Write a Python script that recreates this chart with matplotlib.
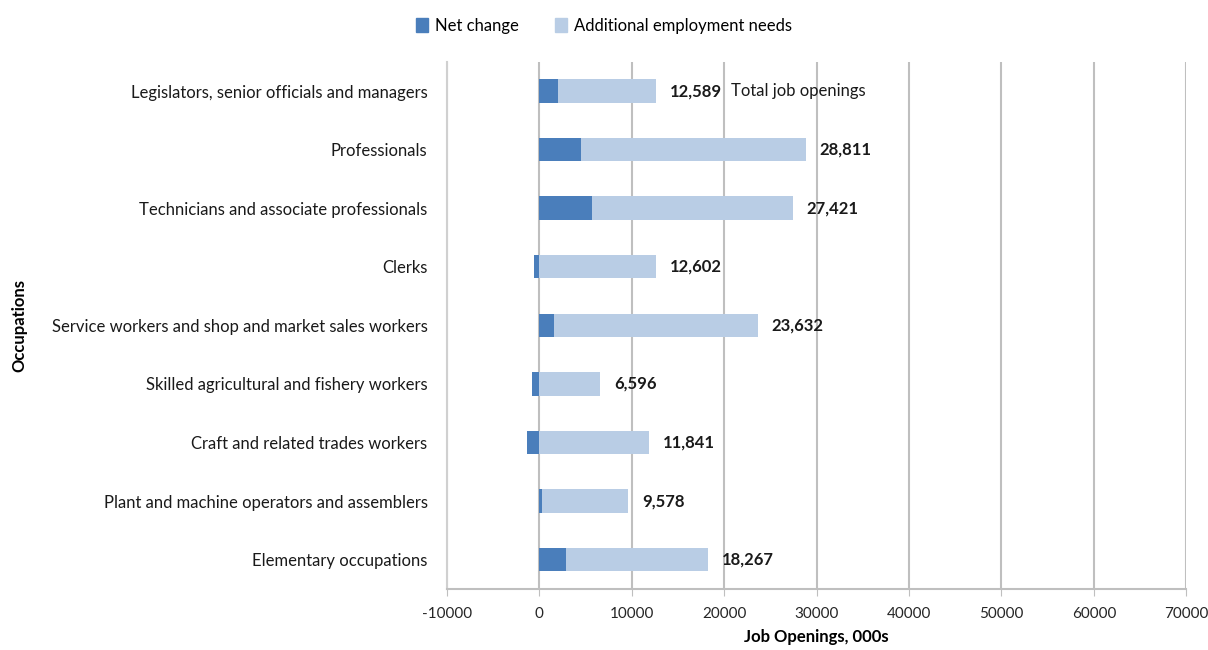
import matplotlib.pyplot as plt
from matplotlib.patches import Patch

occupations = ['Legislators, senior officials and managers',
               'Professionals',
               'Technicians and associate professionals',
               'Clerks',
               'Service workers and shop and market sales workers',
               'Skilled agricultural and fishery workers',
               'Craft and related trades workers',
               'Plant and machine operators and assemblers',
               'Elementary occupations']
net_change = [2050, 4550, 5700, -600, 1600, -750, -1300, 300, 2850]
additional = [10550, 24250, 21700, 12600, 22050, 6600, 11850, 9300, 15400]
totals = [12589, 28811, 27421, 12602, 23632, 6596, 11841, 9578, 18267]
xticks = [-10000, 0, 10000, 20000, 30000, 40000, 50000, 60000, 70000]

dark = '#4A7EBB'
light = '#B9CDE5'
grid_col = '#BFBFBF'

plt.rcParams['font.family'] = ['Lato', 'DejaVu Sans']

fig = plt.figure(figsize=(12.08, 6.5), dpi=100)
ax = fig.add_axes([0.370, 0.094, 0.612, 0.811])

y = list(range(len(occupations)))
ax.barh(y, net_change, height=0.4, color=dark, zorder=3)
base = [max(n, 0) for n in net_change]
ax.barh(y, additional, left=base, height=0.4, color=light, zorder=3)

for i, tot in enumerate(totals):
    end = base[i] + additional[i]
    ax.text(end + 1500, i, f'{tot:,}', va='center', ha='left',
            fontsize=12, fontweight='bold', color='#1a1a1a')
ax.annotate('Total job openings', xy=(base[0] + additional[0] + 1500, 0),
            xytext=(44, 0), textcoords='offset points', va='center',
            ha='left', fontsize=12, color='#1a1a1a')

ax.set_xlim(-10000, 70000)
ax.set_ylim(len(occupations) - 0.5, -0.5)
ax.set_xticks(xticks)
ax.set_xticklabels([str(t) for t in xticks], fontsize=11, color='#262626')
ax.set_yticks(y)
ax.set_yticklabels(occupations, fontsize=12, color='#1a1a1a')
ax.tick_params(axis='y', length=0, pad=14)
ax.tick_params(axis='x', length=5, color=grid_col, pad=8)
ax.xaxis.grid(True, color=grid_col, linewidth=1.5, zorder=0)

for side in ['top', 'right']:
    ax.spines[side].set_visible(False)
ax.spines['left'].set_color('#D0D0D0')
ax.spines['left'].set_linewidth(1.5)
ax.spines['bottom'].set_color(grid_col)
ax.spines['bottom'].set_linewidth(1.5)

ax.set_xlabel('Job Openings, 000s', fontsize=12, fontweight='bold', labelpad=6)
fig.text(0.016, 0.5, 'Occupations', rotation=90, va='center', ha='center',
         fontsize=12, fontweight='bold')

handles = [Patch(color=dark), Patch(color=light)]
fig.legend(handles, ['Net change', 'Additional employment needs'],
           loc='center', bbox_to_anchor=(0.5, 0.96), ncol=2, frameon=False,
           fontsize=12, handlelength=0.7, handleheight=0.9, columnspacing=2.2,
           handletextpad=0.4)

fig.savefig('out.png', dpi=100)
